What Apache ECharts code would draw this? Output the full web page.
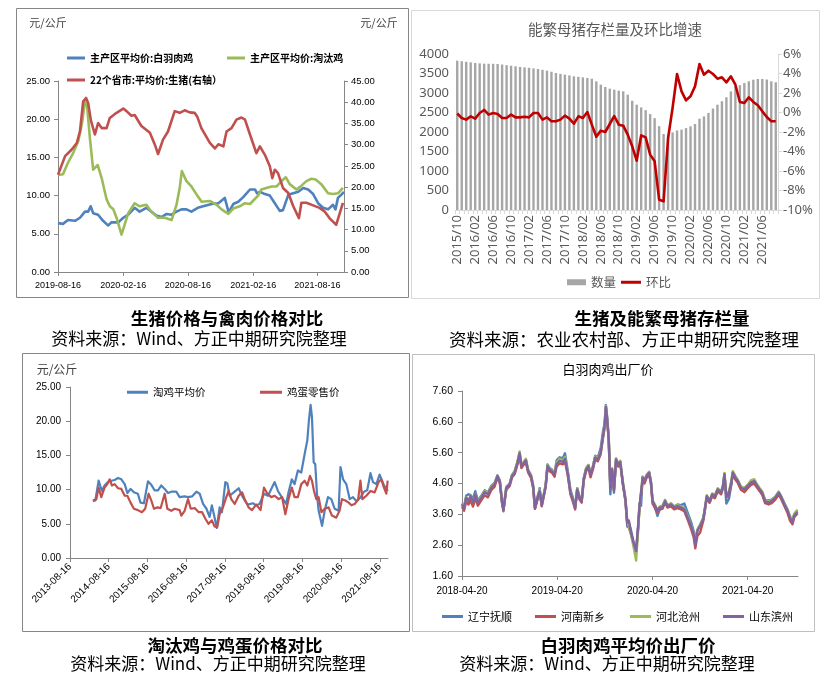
<!DOCTYPE html>
<html><head><meta charset="utf-8">
<script src="https://cdn.jsdelivr.net/npm/echarts@6/dist/echarts.min.js"></script>
<style>html,body{margin:0;padding:0;background:#fff}#c{width:828px;height:681px}</style>
</head><body><div id="c"></div>
<script>
// ---------- Panel 1: 生猪价格与禽肉价格对比 ----------
const p1Ticks = ['2019-08-16','2020-02-16','2020-08-16','2021-02-16','2021-08-16'];
const broilerPrice = [['2019-08-16',6.4],['2019-08-30',6.3],['2019-09-13',6.8],['2019-10-03',6.7],['2019-10-17',7.1],['2019-10-31',7.9],['2019-11-09',7.9],['2019-11-16',8.6],['2019-11-23',7.7],['2019-12-07',7.5],['2019-12-21',6.7],['2020-01-04',6.1],['2020-01-14',6.5],['2020-02-02',6.5],['2020-02-16',7.1],['2020-03-01',7.5],['2020-03-19',8.4],['2020-04-02',7.9],['2020-04-21',8.4],['2020-05-05',7.9],['2020-05-19',7.4],['2020-06-03',7.2],['2020-06-17',7.6],['2020-07-01',7.5],['2020-07-15',7.9],['2020-07-29',8.2],['2020-08-12',8.2],['2020-08-26',7.9],['2020-09-13',8.4],['2020-09-28',8.6],['2020-10-22',8.9],['2020-11-10',9.0],['2020-11-28',9.7],['2020-12-09',7.8],['2020-12-22',8.9],['2021-01-05',9.2],['2021-01-19',9.8],['2021-02-07',10.8],['2021-02-21',10.8],['2021-02-27',10.3],['2021-03-07',10.5],['2021-03-21',10.2],['2021-04-04',10.0],['2021-04-18',9.0],['2021-05-02',8.0],['2021-05-11',8.1],['2021-05-26',10.1],['2021-06-09',10.3],['2021-06-23',10.5],['2021-07-07',11.0],['2021-07-21',10.8],['2021-08-04',10.2],['2021-08-18',9.0],['2021-09-01',8.4],['2021-09-15',8.2],['2021-09-29',8.8],['2021-10-06',8.2],['2021-10-13',9.7],['2021-10-22',10.1],['2021-10-30',10.5]];
const spentHenPrice = [['2019-08-16',12.7],['2019-08-30',12.8],['2019-09-13',14.3],['2019-09-28',15.6],['2019-10-12',17.1],['2019-10-22',19.3],['2019-10-31',22.3],['2019-11-06',21.7],['2019-11-14',17.5],['2019-11-23',13.4],['2019-12-06',14.0],['2019-12-17',12.3],['2019-12-31',9.5],['2020-01-09',8.6],['2020-01-19',8.2],['2020-01-28',7.1],['2020-02-11',4.9],['2020-02-16',4.9],['2020-03-01',7.7],['2020-03-19',9.0],['2020-04-02',8.6],['2020-04-21',8.8],['2020-05-05',7.9],['2020-05-24',7.1],['2020-06-12',7.1],['2020-07-01',6.8],['2020-07-15',8.8],['2020-07-24',11.0],['2020-07-30',13.2],['2020-08-12',11.9],['2020-08-26',11.2],['2020-09-13',9.9],['2020-09-24',9.2],['2020-10-17',9.3],['2020-11-05',8.8],['2020-11-19',8.2],['2020-12-08',7.6],['2020-12-22',8.3],['2021-01-09',8.6],['2021-01-24',9.0],['2021-02-07',8.9],['2021-03-02',10.0],['2021-03-11',10.8],['2021-03-25',11.0],['2021-04-09',11.2],['2021-04-23',11.2],['2021-05-07',11.9],['2021-05-19',12.4],['2021-05-30',11.5],['2021-06-18',10.8],['2021-07-02',11.3],['2021-07-16',11.9],['2021-07-30',12.2],['2021-08-11',12.1],['2021-08-27',11.5],['2021-09-15',10.3],['2021-09-29',10.2],['2021-10-13',10.3],['2021-10-27',11.0]];
const hogPrice = [['2019-08-16',22.9],['2019-09-05',27.3],['2019-09-23',28.8],['2019-10-08',30.4],['2019-10-17',33.2],['2019-10-26',40.2],['2019-11-03',41.0],['2019-11-09',39.8],['2019-11-17',35.6],['2019-11-28',32.4],['2019-12-07',35.1],['2019-12-17',33.9],['2019-12-31',33.9],['2020-01-09',36.3],['2020-01-28',37.5],['2020-02-16',38.5],['2020-02-25',37.9],['2020-03-10',36.8],['2020-03-19',37.0],['2020-04-07',34.4],['2020-05-01',32.8],['2020-05-15',30.0],['2020-05-24',27.8],['2020-06-07',31.2],['2020-06-21',33.1],['2020-07-10',37.9],['2020-07-24',37.5],['2020-08-07',38.1],['2020-08-21',37.6],['2020-09-04',37.5],['2020-09-12',36.5],['2020-09-23',33.9],['2020-10-17',30.4],['2020-10-31',29.1],['2020-11-10',30.1],['2020-11-24',29.6],['2020-12-03',33.1],['2020-12-17',33.9],['2020-12-31',35.9],['2021-01-14',36.4],['2021-01-24',35.9],['2021-02-07',32.4],['2021-02-25',28.0],['2021-03-07',29.6],['2021-03-21',27.6],['2021-04-04',24.9],['2021-04-11',22.1],['2021-04-18',24.1],['2021-04-27',23.3],['2021-05-11',19.8],['2021-05-26',18.6],['2021-06-09',15.5],['2021-06-25',12.7],['2021-07-02',16.3],['2021-07-16',16.3],['2021-08-04',15.7],['2021-08-22',15.1],['2021-09-05',14.3],['2021-09-19',12.7],['2021-10-08',11.1],['2021-10-27',16.3]];

// ---------- Panel 2: 能繁母猪存栏量及环比增速 ----------
const sowMonths = ['2015/10','2015/11','2015/12','2016/01','2016/02','2016/03','2016/04','2016/05','2016/06','2016/07','2016/08','2016/09','2016/10','2016/11','2016/12','2017/01','2017/02','2017/03','2017/04','2017/05','2017/06','2017/07','2017/08','2017/09','2017/10','2017/11','2017/12','2018/01','2018/02','2018/03','2018/04','2018/05','2018/06','2018/07','2018/08','2018/09','2018/10','2018/11','2018/12','2019/01','2019/02','2019/03','2019/04','2019/05','2019/06','2019/07','2019/08','2019/09','2019/10','2019/11','2019/12','2020/01','2020/02','2020/03','2020/04','2020/05','2020/06','2020/07','2020/08','2020/09','2020/10','2020/11','2020/12','2021/01','2021/02','2021/03','2021/04','2021/05','2021/06','2021/07','2021/08','2021/09'];
const sowStock = [3830,3815,3800,3786,3770,3760,3752,3750,3748,3744,3730,3715,3700,3685,3670,3658,3645,3630,3615,3595,3573,3545,3513,3490,3470,3450,3427,3415,3402,3385,3367,3299,3214,3154,3111,3085,3060,3043,2957,2800,2700,2630,2560,2460,2355,2150,1950,1915,1990,2040,2060,2100,2145,2205,2340,2400,2490,2600,2700,2790,2890,3040,3170,3200,3255,3300,3340,3360,3360,3345,3300,3275];
const sowMoM = [-0.1,-0.56,-0.73,-0.39,-0.63,-0.05,0.26,-0.22,-0.05,-0.15,-0.56,-0.56,-0.22,-0.5,-0.5,-0.43,-0.5,-0.05,-0.05,-0.73,-0.5,-0.9,-0.9,-0.73,-0.32,-0.63,-1.15,-0.39,-0.56,0.05,-1.25,-2.48,-1.86,-2.0,-1.18,-0.36,-1.25,-1.35,-2.27,-3.47,-4.94,-2.34,-2.55,-4.32,-5.0,-8.94,-9.11,-2.62,0.46,3.95,2.17,1.25,1.66,2.68,4.97,3.88,4.29,3.95,3.47,3.61,3.09,3.71,2.85,1.08,0.97,1.56,1.08,0.74,0.12,-0.46,-0.9,-0.9];

// ---------- Panel 3: 淘汰鸡与鸡蛋价格对比 ----------
const p3Ticks = ['2013-08-16','2014-08-16','2015-08-16','2016-08-16','2017-08-16','2018-08-16','2019-08-16','2020-08-16','2021-08-16'];
const henPrice = [['2014-03-20',8.3],['2014-04-12',8.4],['2014-05-13',11.3],['2014-05-28',11.5],['2014-06-13',9.8],['2014-07-08',10.6],['2014-08-09',11.1],['2014-09-09',11.3],['2014-10-11',11.4],['2014-11-12',11.7],['2014-12-13',11.5],['2015-01-14',10.8],['2015-02-08',9.5],['2015-03-10',10.1],['2015-04-11',9.6],['2015-05-18',9.4],['2015-06-12',8.1],['2015-07-14',8.0],['2015-08-21',11.2],['2015-09-22',10.7],['2015-10-23',9.9],['2015-11-24',9.9],['2015-12-25',10.6],['2016-01-26',10.1],['2016-02-26',9.5],['2016-03-28',9.7],['2016-05-14',9.7],['2016-06-15',8.9],['2016-08-01',9.0],['2016-09-02',8.9],['2016-10-10',9.0],['2016-11-20',9.7],['2016-12-21',9.4],['2017-01-22',7.9],['2017-02-23',7.2],['2017-03-24',6.0],['2017-04-15',7.7],['2017-05-11',5.9],['2017-06-01',4.4],['2017-06-27',7.4],['2017-07-19',6.7],['2017-08-20',11.1],['2017-09-08',10.9],['2017-09-30',9.1],['2017-11-16',9.7],['2017-12-24',10.2],['2018-01-18',9.3],['2018-02-19',8.4],['2018-03-20',7.8],['2018-05-07',8.0],['2018-06-07',7.7],['2018-07-09',7.9],['2018-08-19',9.4],['2018-09-26',9.1],['2018-11-03',10.3],['2018-11-28',11.1],['2018-12-29',9.8],['2019-02-15',8.6],['2019-03-17',7.9],['2019-04-08',9.6],['2019-05-09',11.5],['2019-06-04',10.8],['2019-07-05',12.8],['2019-08-06',12.5],['2019-09-07',15.2],['2019-10-02',17.2],['2019-10-17',20.1],['2019-11-02',22.4],['2019-11-15',20.6],['2019-12-01',14.0],['2019-12-16',13.7],['2020-01-01',9.4],['2020-01-17',6.9],['2020-02-18',4.7],['2020-03-14',6.9],['2020-04-14',8.9],['2020-05-15',8.6],['2020-06-16',7.2],['2020-07-23',6.9],['2020-08-10',13.3],['2020-09-03',11.5],['2020-10-04',10.8],['2020-11-05',8.6],['2020-12-06',8.9],['2021-01-07',8.3],['2021-02-17',8.9],['2021-03-19',9.7],['2021-04-19',9.9],['2021-05-20',12.4],['2021-06-12',11.1],['2021-07-14',10.8],['2021-08-14',12.2],['2021-08-30',12.0],['2021-09-24',10.6],['2021-10-16',10.2],['2021-10-29',9.8]];
const eggPrice = [['2014-03-20',8.4],['2014-04-21',8.6],['2014-05-13',10.3],['2014-06-07',8.9],['2014-07-08',10.3],['2014-08-03',10.8],['2014-08-25',11.5],['2014-09-16',10.6],['2014-10-11',10.8],['2014-11-12',10.2],['2014-12-13',10.1],['2015-01-14',9.1],['2015-02-08',9.1],['2015-03-10',8.1],['2015-04-11',7.2],['2015-05-18',7.0],['2015-06-25',6.7],['2015-07-26',7.2],['2015-08-27',9.4],['2015-09-22',8.4],['2015-10-17',7.2],['2015-11-18',7.4],['2015-12-19',7.3],['2016-01-26',9.4],['2016-02-20',7.2],['2016-03-28',6.9],['2016-04-29',7.2],['2016-06-15',7.0],['2016-07-01',6.2],['2016-08-01',6.9],['2016-09-02',8.6],['2016-09-28',7.2],['2016-11-04',7.3],['2016-12-12',6.7],['2017-01-13',6.7],['2017-02-14',5.7],['2017-03-15',5.0],['2017-04-15',5.5],['2017-05-11',4.6],['2017-06-04',4.5],['2017-06-27',6.4],['2017-07-28',7.4],['2017-08-29',8.9],['2017-09-21',9.8],['2017-10-15',8.6],['2017-11-16',7.9],['2017-12-24',9.1],['2018-01-25',9.6],['2018-02-19',8.6],['2018-03-27',7.4],['2018-04-28',7.0],['2018-06-07',7.8],['2018-07-18',7.0],['2018-08-19',10.3],['2018-09-20',9.4],['2018-10-27',8.9],['2018-11-28',9.1],['2019-01-05',8.6],['2019-02-06',8.9],['2019-03-09',6.4],['2019-04-08',8.6],['2019-05-09',10.3],['2019-06-04',8.9],['2019-07-05',8.9],['2019-08-06',10.8],['2019-09-07',11.3],['2019-10-02',10.6],['2019-10-27',12.0],['2019-11-15',11.3],['2019-12-04',9.8],['2019-12-26',8.6],['2020-01-17',8.9],['2020-02-12',6.7],['2020-03-14',7.2],['2020-04-20',7.4],['2020-05-21',6.2],['2020-07-01',5.9],['2020-08-01',6.9],['2020-08-24',8.6],['2020-09-25',8.4],['2020-10-26',8.1],['2020-11-21',7.7],['2020-12-22',7.9],['2021-01-23',8.5],['2021-02-14',11.3],['2021-03-04',8.6],['2021-04-10',9.1],['2021-05-20',9.8],['2021-06-28',9.6],['2021-08-04',11.1],['2021-08-30',11.5],['2021-09-24',10.3],['2021-10-16',9.4],['2021-10-29',11.3]];

// ---------- Panel 4: 白羽肉鸡出厂价 ----------
const p4Ticks = ['2018-04-20','2019-04-20','2020-04-20','2021-04-20'];
const p4YTicks = [1.6,2.6,3.6,4.6,5.6,6.6,7.6];
const plantDates = ['2018-04-20','2018-04-28','2018-05-06','2018-05-15','2018-05-23','2018-06-01','2018-06-10','2018-06-20','2018-07-03','2018-07-16','2018-07-28','2018-08-10','2018-08-23','2018-09-03','2018-09-12','2018-09-21','2018-09-26','2018-10-07','2018-10-20','2018-10-29','2018-11-08','2018-11-19','2018-11-27','2018-12-04','2018-12-12','2018-12-21','2018-12-30','2019-01-10','2019-01-18','2019-01-25','2019-02-05','2019-02-12','2019-02-20','2019-02-27','2019-03-07','2019-03-14','2019-03-22','2019-03-31','2019-04-10','2019-04-18','2019-04-29','2019-05-12','2019-05-20','2019-05-31','2019-06-10','2019-06-19','2019-06-28','2019-07-06','2019-07-15','2019-07-23','2019-07-31','2019-08-09','2019-08-18','2019-08-26','2019-09-04','2019-09-13','2019-09-23','2019-10-04','2019-10-13','2019-10-19','2019-10-24','2019-10-29','2019-11-04','2019-11-10','2019-11-17','2019-11-24','2019-12-02','2019-12-10','2019-12-18','2019-12-28','2020-01-07','2020-01-14','2020-01-20','2020-01-28','2020-02-07','2020-02-17','2020-02-25','2020-03-01','2020-03-07','2020-03-13','2020-03-20','2020-03-28','2020-04-07','2020-04-14','2020-04-20','2020-04-30','2020-05-09','2020-05-18','2020-05-28','2020-06-07','2020-06-16','2020-06-30','2020-07-12','2020-07-25','2020-08-07','2020-08-20','2020-09-02','2020-09-15','2020-09-25','2020-10-01','2020-10-09','2020-10-19','2020-11-01','2020-11-14','2020-11-25','2020-12-05','2020-12-15','2020-12-26','2021-01-08','2021-01-15','2021-01-21','2021-01-28','2021-02-07','2021-02-16','2021-02-22','2021-03-04','2021-03-13','2021-03-25','2021-04-07','2021-04-20','2021-05-02','2021-05-15','2021-05-27','2021-06-05','2021-06-15','2021-06-26','2021-07-09','2021-07-21','2021-08-04','2021-08-17','2021-08-25','2021-09-08','2021-09-20','2021-09-29','2021-10-09','2021-10-15','2021-10-25','2021-10-29'];
const liaoningFushun = [3.95,3.85,4.20,4.25,4.22,4.10,4.35,4.05,4.20,4.38,4.30,4.52,4.62,4.86,4.70,3.95,3.70,4.48,4.60,4.88,5.00,5.30,5.60,5.15,5.25,5.38,4.98,4.80,4.48,3.78,4.15,4.45,3.88,3.84,4.55,5.22,5.10,5.05,4.92,5.35,5.45,5.42,5.58,5.00,4.40,4.15,3.80,4.45,4.12,4.00,4.76,5.08,5.20,4.92,5.15,5.50,5.45,5.75,6.30,6.55,7.15,6.75,6.00,4.25,5.00,4.30,5.40,5.20,5.32,4.60,4.05,3.20,3.35,3.10,2.70,2.40,3.30,3.95,3.88,4.82,4.70,4.86,4.97,4.65,4.05,3.80,3.55,3.78,3.85,4.05,3.85,3.95,3.85,3.92,3.90,3.95,3.65,3.35,3.05,2.70,3.10,3.25,3.50,4.15,3.98,4.20,4.15,4.35,4.28,4.45,4.92,3.95,4.10,4.55,4.98,4.80,4.70,4.48,4.45,4.55,4.62,4.65,4.50,4.40,4.28,4.05,4.05,4.08,4.16,4.32,4.20,3.95,3.75,3.50,3.38,3.58,3.68,3.70];
const henanXinxiang = [3.85,3.72,4.02,3.92,4.05,3.85,4.12,3.88,4.05,4.22,4.15,4.38,4.50,4.78,4.62,3.95,3.74,4.40,4.52,4.80,4.90,5.22,5.50,5.10,5.20,5.28,4.95,4.78,4.45,3.78,4.12,4.30,3.86,3.82,4.48,5.10,5.00,4.95,4.82,5.15,5.25,5.22,5.32,4.85,4.25,4.02,3.76,4.35,4.08,3.98,4.68,5.00,5.10,4.80,5.05,5.38,5.32,5.55,6.08,6.40,7.02,6.62,5.98,4.48,5.00,4.38,5.32,5.15,5.25,4.58,4.05,3.30,3.36,2.98,2.66,2.38,3.18,3.82,3.78,4.70,4.60,4.78,4.88,4.58,3.95,3.80,3.66,3.76,3.78,3.98,3.82,3.86,3.76,3.80,3.76,3.70,3.42,3.12,2.85,2.50,2.90,3.00,3.40,4.12,3.98,4.20,4.12,4.36,4.25,4.46,4.85,4.15,4.25,4.58,4.90,4.72,4.62,4.40,4.32,4.45,4.55,4.60,4.45,4.35,4.22,3.96,3.92,3.96,4.08,4.24,4.12,3.86,3.64,3.40,3.28,3.50,3.60,3.62];
const hebeiCangzhou = [3.95,3.80,4.16,4.05,4.20,4.00,4.26,4.02,4.18,4.36,4.30,4.50,4.60,4.86,4.70,4.02,3.80,4.50,4.60,4.88,5.00,5.32,5.64,5.22,5.30,5.40,5.05,4.88,4.55,3.86,4.22,4.40,3.95,3.90,4.55,5.20,5.10,5.05,4.95,5.28,5.40,5.36,5.46,4.96,4.35,4.12,3.85,4.45,4.18,4.06,4.78,5.10,5.20,4.94,5.15,5.48,5.42,5.64,6.18,6.50,7.12,6.72,6.08,4.58,5.10,4.45,5.42,5.26,5.34,4.68,4.12,3.40,3.45,2.95,2.55,2.10,3.10,3.80,3.80,4.82,4.72,4.88,4.98,4.66,4.06,3.90,3.75,3.86,3.88,4.07,3.90,3.96,3.86,3.90,3.86,3.80,3.55,3.25,3.00,2.80,3.10,3.25,3.48,4.22,4.06,4.28,4.22,4.45,4.34,4.56,4.94,4.22,4.34,4.68,5.00,4.84,4.72,4.50,4.45,4.56,4.70,4.74,4.56,4.45,4.34,4.06,4.02,4.06,4.18,4.34,4.22,3.96,3.76,3.55,3.40,3.62,3.72,3.74];
const shandongBinzhou = [3.92,3.78,4.14,4.03,4.19,3.98,4.25,3.98,4.14,4.32,4.25,4.46,4.57,4.84,4.68,3.98,3.76,4.46,4.57,4.84,4.95,5.28,5.58,5.17,5.25,5.35,5.00,4.84,4.52,3.82,4.19,4.35,3.92,3.87,4.52,5.17,5.06,5.00,4.90,5.22,5.33,5.30,5.40,4.90,4.30,4.09,3.82,4.41,4.14,4.03,4.74,5.06,5.17,4.90,5.11,5.44,5.38,5.60,6.14,6.46,7.08,6.68,6.03,4.52,5.06,4.41,5.38,5.22,5.30,4.63,4.09,3.33,3.40,3.01,2.68,2.41,3.22,3.87,3.82,4.79,4.68,4.84,4.95,4.63,4.03,3.87,3.71,3.82,3.82,4.03,3.87,3.92,3.82,3.87,3.82,3.76,3.49,3.22,2.95,2.60,3.06,3.22,3.44,4.19,4.03,4.25,4.19,4.41,4.30,4.52,4.90,4.19,4.30,4.63,4.95,4.79,4.68,4.46,4.41,4.52,4.63,4.68,4.52,4.41,4.30,4.03,3.98,4.03,4.14,4.30,4.19,3.92,3.71,3.49,3.33,3.55,3.65,3.67];

// ---------- helpers ----------
const CJK = '"Noto Sans CJK SC", "Noto Sans", sans-serif';
const ARIAL = '"Liberation Sans", Arial, sans-serif';
const D = s => { const [y,m,d] = s.split('-').map(Number); return new Date(y, m-1, d).getTime(); };
const pad = n => String(n).padStart(2,'0');
const fmtDate = v => { const d = new Date(v); return d.getFullYear()+'-'+pad(d.getMonth()+1)+'-'+pad(d.getDate()); };
const pairs = arr => arr.map(p => [D(p[0]), p[1]]);
const zipDates = (dates, vals) => dates.map((d,i) => [D(d), vals[i]]);

function leg(name, left, top, fs, extra) {
  return Object.assign({
    data: [name], left: left, top: top, icon: 'rect', itemWidth: 20, itemHeight: 3,
    padding: 0, itemGap: 0, selectedMode: false,
    textStyle: { fontSize: fs, color: '#000', fontFamily: CJK }
  }, extra || {});
}
function lineS(name, data, color, width, xi, yi) {
  return { name, type: 'line', data, xAxisIndex: xi, yAxisIndex: yi, showSymbol: false, symbol: 'none',
    color: color, itemStyle: { color: color }, lineStyle: { color: color, width: width, join: 'round' },
    emphasis: { disabled: true }, z: 3 };
}
const grayAxis = c => ({ show: true, onZero: false, lineStyle: { color: c, width: 1 } });
// date axes are value axes over timestamps, with labels/ticks at given dates
function dateX(grid, min, max, ticks, lab) {
  const tv = ticks.map(D);
  return { type: 'value', gridIndex: grid, min: D(min), max: D(max), scale: true,
    axisLine: grayAxis('#868686'),
    axisTick: { show: true, length: 4, customValues: tv, lineStyle: { color: '#868686' } },
    axisLabel: Object.assign({ customValues: tv, formatter: fmtDate, color: '#000', fontFamily: ARIAL, showMinLabel: true, showMaxLabel: true }, lab),
    splitLine: { show: false }, minorTick: { show: false } };
}
function valY(grid, pos, min, max, interval, lab) {
  const o = { type: 'value', gridIndex: grid, position: pos, min, max,
    axisLine: grayAxis('#868686'),
    axisTick: { show: true, length: 4, lineStyle: { color: '#868686' } },
    axisLabel: Object.assign({ formatter: v => v.toFixed(2), color: '#000', fontFamily: ARIAL, margin: 8 }, lab),
    splitLine: { show: false } };
  if (interval) o.interval = interval;
  return o;
}
function txt(text, x, y, size, weight, color, fam) {
  return { type: 'text', x, y, silent: true,
    style: { text, fill: color || '#000', fontSize: size, fontWeight: weight || 'normal', fontFamily: fam || CJK, align: 'center', verticalAlign: 'middle' } };
}
function box(x, y, w, h, c) {
  return { type: 'rect', silent: true, shape: { x, y, width: w, height: h }, style: { fill: 'none', stroke: c, lineWidth: 1 } };
}

const chart = echarts.init(document.getElementById('c'), null, { renderer: 'canvas' });
const p4Y = valY(3, 'left', 1.6, 7.6, null, { fontSize: 10.5, margin: 9, customValues: p4YTicks });
p4Y.axisTick = { show: true, length: 4, customValues: p4YTicks, lineStyle: { color: '#868686' } };
const CJKB = { fontSize: 10, fontWeight: 'bold', color: '#000', fontFamily: CJK };
const option = {
  animation: false,
  backgroundColor: '#fff',
  grid: [
    { left: 58, top: 81, width: 286, height: 191, outerBoundsMode: 'none' },
    { left: 455, top: 54, width: 323, height: 156, outerBoundsMode: 'none' },
    { left: 70, top: 387, width: 318, height: 171, outerBoundsMode: 'none' },
    { left: 462, top: 391, width: 336, height: 185, outerBoundsMode: 'none' }
  ],
  xAxis: [
    dateX(0, '2019-08-16', '2021-10-30', p1Ticks, { fontSize: 9, margin: 9 }),
    { type: 'category', gridIndex: 1, data: sowMonths, boundaryGap: true,
      axisLine: grayAxis('#d9d9d9'),
      axisTick: { show: true, interval: 0, length: 4, lineStyle: { color: '#d9d9d9' } },
      axisLabel: { interval: 3, rotate: 90, fontSize: 13, color: '#595959', margin: 5, fontFamily: '"Noto Sans", sans-serif' },
      splitLine: { show: false } },
    dateX(2, '2013-08-16', '2021-11-01', p3Ticks, { fontSize: 10, rotate: 45, margin: 7 }),
    dateX(3, '2018-04-20', '2021-10-30', p4Ticks, { fontSize: 10, margin: 10 })
  ],
  yAxis: [
    valY(0, 'left', 0, 25, 5, { fontSize: 9.5 }),
    valY(0, 'right', 0, 45, 5, { fontSize: 9.5, margin: 7 }),
    { type: 'value', gridIndex: 1, position: 'left', min: 0, max: 4000, interval: 500,
      axisLine: { show: false }, axisTick: { show: false }, splitLine: { show: false },
      axisLabel: { formatter: v => String(v), fontSize: 13, color: '#595959', margin: 6, fontFamily: '"Noto Sans", sans-serif' } },
    { type: 'value', gridIndex: 1, position: 'right', min: -10, max: 6, interval: 2,
      axisLine: grayAxis('#d9d9d9'), axisTick: { show: true, length: 4, lineStyle: { color: '#d9d9d9' } },
      splitLine: { show: false },
      axisLabel: { formatter: '{value}%', fontSize: 13, color: '#595959', margin: 5, fontFamily: '"Noto Sans", sans-serif' } },
    valY(2, 'left', 0, 25, 5, { fontSize: 10, margin: 9 }),
    p4Y
  ],
  legend: [
    leg('主产区平均价:白羽肉鸡', 67, 53, 10, { itemWidth: 18, textStyle: CJKB }),
    leg('主产区平均价:淘汰鸡', 227, 53, 10, { itemWidth: 18, textStyle: CJKB }),
    leg('22个省市:平均价:生猪(右轴）', 67, 75, 10, { itemWidth: 18, textStyle: CJKB }),
    leg('数量', 567, 276, 12.5, { itemWidth: 19, itemHeight: 6, textStyle: { fontSize: 12.5, color: '#595959', fontFamily: CJK } }),
    leg('环比', 621, 276, 12.5, { itemWidth: 20, itemHeight: 3, textStyle: { fontSize: 12.5, color: '#595959', fontFamily: CJK } }),
    leg('淘鸡平均价', 127, 387, 10.5, { itemWidth: 21 }),
    leg('鸡蛋零售价', 260, 387, 10.5, { itemWidth: 22 }),
    leg('辽宁抚顺', 442, 611, 11, { itemWidth: 21 }),
    leg('河南新乡', 535, 611, 11, { itemWidth: 21 }),
    leg('河北沧州', 630, 611, 11, { itemWidth: 21 }),
    leg('山东滨州', 723, 611, 11, { itemWidth: 21 })
  ],
  series: [
    lineS('主产区平均价:白羽肉鸡', pairs(broilerPrice), '#4F81BD', 2.6, 0, 0),
    lineS('主产区平均价:淘汰鸡', pairs(spentHenPrice), '#9BBB59', 2.6, 0, 0),
    lineS('22个省市:平均价:生猪(右轴）', pairs(hogPrice), '#C0504D', 2.6, 0, 1),
    { name: '数量', type: 'bar', data: sowStock, xAxisIndex: 1, yAxisIndex: 2, barWidth: 2.4,
      color: '#A6A6A6', itemStyle: { color: '#A6A6A6' }, emphasis: { disabled: true }, z: 2 },
    lineS('环比', sowMoM, '#C00000', 2.6, 1, 3),
    lineS('淘鸡平均价', pairs(henPrice), '#4F81BD', 2.2, 2, 4),
    lineS('鸡蛋零售价', pairs(eggPrice), '#C0504D', 2.2, 2, 4),
    lineS('辽宁抚顺', zipDates(plantDates, liaoningFushun), '#4F81BD', 2.4, 3, 5),
    lineS('河南新乡', zipDates(plantDates, henanXinxiang), '#C0504D', 2.4, 3, 5),
    lineS('河北沧州', zipDates(plantDates, hebeiCangzhou), '#9BBB59', 2.4, 3, 5),
    lineS('山东滨州', zipDates(plantDates, shandongBinzhou), '#8064A2', 2.4, 3, 5)
  ],
  graphic: [
    box(16.5, 8.5, 392, 289, '#868686'),
    box(411.5, 10.5, 408, 288, '#d9d9d9'),
    box(22.5, 353.5, 387, 278, '#868686'),
    box(412.5, 354.5, 402, 277, '#bfbfbf'),
    txt('元/公斤', 48, 23, 11, 'normal', '#404040'),
    txt('元/公斤', 379, 23, 11, 'normal', '#404040'),
    txt('能繁母猪存栏量及环比增速', 615, 29, 14.5, 'normal', '#595959'),
    txt('元/公斤', 57, 369, 12, 'normal', '#404040'),
    txt('白羽肉鸡出厂价', 608, 369, 13, 'normal', '#000'),
    txt('生猪价格与禽肉价格对比', 227, 318, 17.5, 'bold', '#000'),
    txt('资料来源：Wind、方正中期研究院整理', 199, 339, 17, 'normal', '#000'),
    txt('生猪及能繁母猪存栏量', 662, 318, 17.5, 'bold', '#000'),
    txt('资料来源：农业农村部、方正中期研究院整理', 624, 339, 17.5, 'normal', '#000'),
    txt('淘汰鸡与鸡蛋价格对比', 235, 645, 17.5, 'bold', '#000'),
    txt('资料来源：Wind、方正中期研究院整理', 218, 664, 17, 'normal', '#000'),
    txt('白羽肉鸡平均价出厂价', 628, 645, 17.5, 'bold', '#000'),
    txt('资料来源：Wind、方正中期研究院整理', 607, 664, 17, 'normal', '#000')
  ]
};
chart.setOption(option);
</script></body></html>
